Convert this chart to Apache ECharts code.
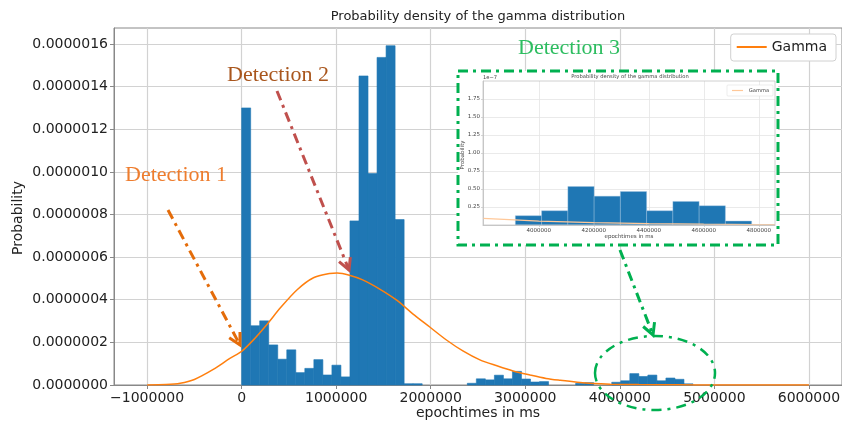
<!DOCTYPE html>
<html><head><meta charset="utf-8">
<script src="https://cdn.jsdelivr.net/npm/echarts@6/dist/echarts.min.js"></script>
<style>html,body{margin:0;padding:0;background:#fff}#c{width:842px;height:425px}</style>
</head><body><div id="c"></div>
<script>
// ---- data (density values in units of 1e-6) ----
const binEdges = [0, 95480, 190960, 286440, 381920, 477400, 572880, 668360, 763840, 859320, 954800,
  1050280, 1145760, 1241240, 1336720, 1432200, 1527680, 1623160, 1718640, 1814120, 1909600,
  2005080, 2100560, 2196040, 2291520, 2387000, 2482480, 2577960, 2673440, 2768920, 2864400,
  2959880, 3055360, 3150840, 3246320, 3341800, 3437280, 3532760, 3628240, 3723720, 3819200,
  3914680, 4010160, 4105640, 4201120, 4296600, 4392080, 4487560, 4583040, 4678520, 4774000];
const densityE6 = [1.300, 0.278, 0.301, 0.188, 0.121, 0.165, 0.058, 0.078, 0.119, 0.047,
  0.093, 0.038, 0.770, 1.450, 0.992, 1.537, 1.592, 0.776, 0.006, 0.006,
  0, 0, 0, 0, 0, 0.008, 0.029, 0.024, 0.046, 0.029,
  0.064, 0.028, 0.014, 0.016, 0, 0, 0, 0.008, 0.011, 0,
  0, 0.0129, 0.0198, 0.0534, 0.0400, 0.0465, 0.0198, 0.0327, 0.0267, 0.0055];
const gammaX = [-1000000, -800000, -650000, -500000, -300000, -120000, 0, 130000, 270000, 410000,
  590000, 760000, 930000, 1010000, 1140000, 1280000, 1460000, 1640000, 1810000, 1990000,
  2170000, 2340000, 2520000, 2700000, 2870000, 3050000, 3220000, 3370000, 3550000, 3720000,
  3900000, 4200000, 4600000, 5000000, 6000000];
const gammaYE6 = [0.0005, 0.002, 0.008, 0.026, 0.073, 0.126, 0.158, 0.214, 0.285, 0.362,
  0.448, 0.503, 0.523, 0.525, 0.515, 0.493, 0.450, 0.398, 0.334, 0.272,
  0.210, 0.160, 0.118, 0.090, 0.066, 0.047, 0.031, 0.022, 0.013, 0.007,
  0.004, 0.002, 0.0008, 0.0003, 0];
const insetGammaX = [3797000, 4000000, 4200000, 4400000, 4600000, 4800000, 4859000];
const insetGammaYE6 = [0.0092, 0.0055, 0.0034, 0.0020, 0.0011, 0.0006, 0.0004];
const xTicks = [-1000000, 0, 1000000, 2000000, 3000000, 4000000, 5000000, 6000000];
const yTicksE6 = [0, 0.2, 0.4, 0.6, 0.8, 1.0, 1.2, 1.4, 1.6];
const insetXTicks = [4000000, 4200000, 4400000, 4600000, 4800000];
const insetYTicksE6 = [0.025, 0.05, 0.075, 0.1, 0.125, 0.15, 0.175];

// ---- build ----
const histData = densityE6.map((d, i) => [binEdges[i], binEdges[i + 1], d]);
const insetHist = histData.filter(r => r[0] >= 3797000 && r[1] <= 4859000);
const gammaData = gammaX.map((x, i) => [x, gammaYE6[i]]);
const insetGammaData = insetGammaX.map((x, i) => [x, insetGammaYE6[i]]);

const FONT = 'DejaVu Sans';
const SERIF = 'Liberation Serif';
const fmtX = v => (v < 0 ? '\u2212' + Math.abs(v) : String(v));
const fmtY = v => (v / 1e6).toFixed(7);

function histRender(color, stroke, sw) {
  return function (params, api) {
    const p0 = api.coord([api.value(0), api.value(2)]);
    const p1 = api.coord([api.value(1), 0]);
    if (p1[1] - p0[1] <= 0) return null;
    return {
      type: 'rect',
      shape: { x: p0[0], y: p0[1], width: p1[0] - p0[0], height: p1[1] - p0[1] },
      style: { fill: color, stroke: stroke, lineWidth: sw }
    };
  };
}

function dashLine(pts, color, w) {
  return { type: 'polyline', z: 20, shape: { points: pts },
    style: { stroke: color, lineWidth: w, fill: null, lineDash: [10, 5, 3, 5] } };
}
function arrow(x0, y0, x1, y1, color) {
  const dx = x1 - x0, dy = y1 - y0, L = Math.hypot(dx, dy);
  const ux = dx / L, uy = dy / L, a = 28 * Math.PI / 180, h = 13;
  const w1 = [x1 - h * (ux * Math.cos(a) - uy * Math.sin(a)), y1 - h * (uy * Math.cos(a) + ux * Math.sin(a))];
  const w2 = [x1 - h * (ux * Math.cos(a) + uy * Math.sin(a)), y1 - h * (uy * Math.cos(a) - ux * Math.sin(a))];
  return [
    dashLine([[x0, y0], [x1, y1]], color, 3),
    { type: 'polyline', z: 20, shape: { points: [w1, [x1, y1], w2] },
      style: { stroke: color, lineWidth: 3, fill: null } }
  ];
}
function txt(x, y, s, opt) {
  return Object.assign({ type: 'text', z: 20, x: x, y: y,
    style: Object.assign({ text: s, align: 'center', verticalAlign: 'middle' }, opt.style) },
    opt.extra || {});
}

const chart = echarts.init(document.getElementById('c'), null, { renderer: 'canvas' });
const option = {
  animation: false,
  backgroundColor: '#fff',
  textStyle: { fontFamily: FONT },
  grid: [
    { left: 114, right: 0, top: 28, bottom: 40, show: true, borderColor: '#888', borderWidth: 1,
      backgroundColor: 'transparent', outerBoundsMode: 'none', containLabel: false },
    { left: 483, top: 81, width: 292, height: 144, show: false, outerBoundsMode: 'none', containLabel: false }
  ],
  legend: {
    data: [{ name: 'Gamma', icon: 'rect' }],
    right: 6, top: 34, itemWidth: 30, itemHeight: 2, itemGap: 8,
    padding: [6, 9, 7, 6], borderColor: '#d0d0d0', borderWidth: 1, borderRadius: 3,
    backgroundColor: '#fff',
    textStyle: { fontFamily: FONT, fontSize: 14, color: '#222' }
  },
  xAxis: [
    { type: 'value', gridIndex: 0, min: -1350000, max: 6350000,
      axisLine: { show: true, onZero: false, lineStyle: { color: '#888', width: 1 } },
      axisTick: { show: true, customValues: xTicks, length: 4, lineStyle: { color: '#888' } },
      axisLabel: { customValues: xTicks, formatter: fmtX, color: '#222', fontSize: 14, fontFamily: FONT, margin: 6 },
      splitLine: { show: true, lineStyle: { color: '#d2d2d2', width: 1.2 } } },
    { type: 'value', gridIndex: 1, min: 3797000, max: 4859000, z: 6,
      axisLine: { show: true, onZero: false, lineStyle: { color: '#bbb', width: 0.8 } },
      axisTick: { show: true, customValues: insetXTicks, length: 2, lineStyle: { color: '#bbb', width: 0.6 } },
      axisLabel: { customValues: insetXTicks, formatter: v => String(v), color: '#444', fontSize: 5.5, fontFamily: FONT, margin: 3 },
      splitLine: { show: true, lineStyle: { color: '#e4e4e4', width: 0.8 } } }
  ],
  yAxis: [
    { type: 'value', gridIndex: 0, min: 0, max: 1.675,
      axisLine: { show: true, onZero: false, lineStyle: { color: '#888', width: 1 } },
      axisTick: { show: true, customValues: yTicksE6, length: 4, lineStyle: { color: '#888' } },
      axisLabel: { customValues: yTicksE6, formatter: fmtY, color: '#222', fontSize: 14, fontFamily: FONT, margin: 6 },
      splitLine: { show: true, lineStyle: { color: '#d2d2d2', width: 1.2 } } },
    { type: 'value', gridIndex: 1, min: 0, max: 0.2, z: 6,
      axisLine: { show: true, onZero: false, lineStyle: { color: '#bbb', width: 0.8 } },
      axisTick: { show: true, customValues: insetYTicksE6, length: 2, lineStyle: { color: '#bbb', width: 0.6 } },
      axisLabel: { customValues: insetYTicksE6, formatter: v => (v * 10).toFixed(2), color: '#444', fontSize: 5.5, fontFamily: FONT, margin: 3 },
      splitLine: { show: true, lineStyle: { color: '#e4e4e4', width: 0.8 } } }
  ],
  series: [
    { type: 'custom', name: 'hist', xAxisIndex: 0, yAxisIndex: 0, z: 2,
      renderItem: histRender('#1f77b4', '#1f77b4', 0.6), encode: { x: [0, 1], y: 2 }, data: histData },
    { type: 'line', name: 'Gamma', xAxisIndex: 0, yAxisIndex: 0, z: 3, smooth: 0.3,
      showSymbol: false, symbol: 'none', data: gammaData,
      itemStyle: { color: '#ff7f0e' }, lineStyle: { color: '#ff7f0e', width: 1.5 } },
    { type: 'custom', name: 'insetHist', xAxisIndex: 1, yAxisIndex: 1, z: 7,
      renderItem: histRender('#1f77b4', '#9fc3e0', 0.4), encode: { x: [0, 1], y: 2 }, data: insetHist },
    { type: 'line', name: 'insetGamma', xAxisIndex: 1, yAxisIndex: 1, z: 8, smooth: 0.3,
      showSymbol: false, symbol: 'none', data: insetGammaData,
      lineStyle: { color: '#ffc899', width: 1.2 } }
  ],
  graphic: { elements: [] }
};

const G = option.graphic.elements;
// main title and axis names
G.push(txt(478, 17, 'Probability density of the gamma distribution', { style: { fontFamily: FONT, fontSize: 13, fill: '#222' } }));
G.push(txt(478, 413, 'epochtimes in ms', { style: { fontFamily: FONT, fontSize: 14, fill: '#222' } }));
G.push(txt(18, 218, 'Probability', { style: { fontFamily: FONT, fontSize: 14, fill: '#222' }, extra: { rotation: Math.PI / 2 } }));
// inset background (white) and frame
G.push({ type: 'rect', z: 4, shape: { x: 458, y: 71, width: 320, height: 174 }, style: { fill: '#fff' } });
G.push({ type: 'rect', z: 9, shape: { x: 483, y: 81, width: 292, height: 144 }, style: { fill: null, stroke: '#c4c4c4', lineWidth: 0.8 } });
G.push(txt(630, 77, 'Probability density of the gamma distribution', { style: { fontFamily: FONT, fontSize: 5.2, fill: '#444' } }));
G.push(txt(490, 78, '1e\u22127', { style: { fontFamily: FONT, fontSize: 5.2, fill: '#444' } }));
G.push(txt(629, 237, 'epochtimes in ms', { style: { fontFamily: FONT, fontSize: 5.5, fill: '#444' } }));
G.push(txt(463, 155, 'Probability', { style: { fontFamily: FONT, fontSize: 5.5, fill: '#444' }, extra: { rotation: Math.PI / 2 } }));
// inset legend
G.push({ type: 'rect', z: 9, shape: { x: 727, y: 85, width: 46, height: 11, r: 1 }, style: { fill: '#fff', stroke: '#e0e0e0', lineWidth: 0.6 } });
G.push({ type: 'line', z: 10, shape: { x1: 732, y1: 90.5, x2: 743, y2: 90.5 }, style: { stroke: '#ffc899', lineWidth: 1.2 } });
G.push(Object.assign(txt(759, 90.5, 'Gamma', { style: { fontFamily: FONT, fontSize: 5.2, fill: '#444' } }), { z: 10 }));
// detection annotations
G.push(txt(176, 175, 'Detection 1', { style: { fontFamily: SERIF, fontSize: 22, fill: '#ee7d2e' } }));
G.push(txt(278, 75, 'Detection 2', { style: { fontFamily: SERIF, fontSize: 22, fill: '#a9561d' } }));
G.push(txt(569, 48, 'Detection 3', { style: { fontFamily: SERIF, fontSize: 22, fill: '#2dbd60' } }));
G.push(...arrow(168, 210, 240, 345, '#e46c0a'));
G.push(...arrow(277, 91, 349, 270, '#c0504d'));
G.push(...arrow(620, 250, 653, 335, '#00b050'));
// green dash-dot box and ellipse
G.push({ type: 'rect', z: 20, shape: { x: 458, y: 71, width: 320, height: 174 },
  style: { fill: null, stroke: '#00b050', lineWidth: 3, lineDash: [10, 5, 3, 5] } });
G.push({ type: 'ellipse', z: 20, shape: { cx: 655, cy: 373, rx: 60, ry: 37 },
  style: { fill: null, stroke: '#00b050', lineWidth: 2.5, lineDash: [10, 6, 3, 6] } });

chart.setOption(option);
</script>
</body></html>
